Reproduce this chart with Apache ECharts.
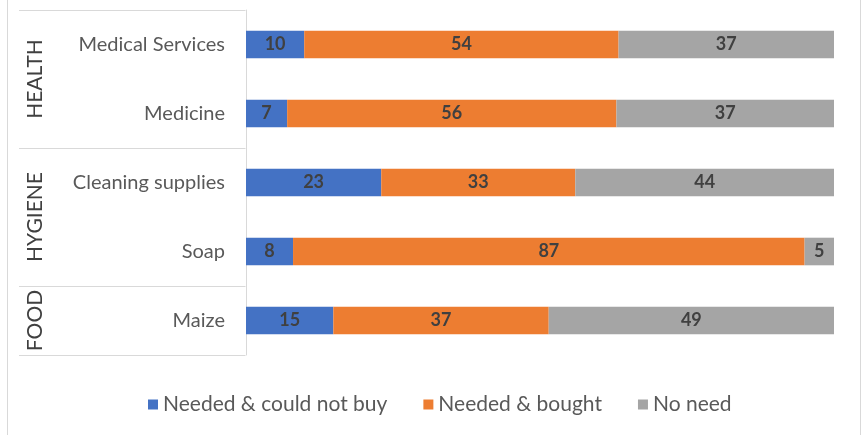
<!DOCTYPE html>
<html>
<head>
<meta charset="utf-8">
<script src="https://cdn.jsdelivr.net/npm/echarts@6/dist/echarts.min.js"></script>
<style>
html,body{margin:0;padding:0;background:#fff;}
#c{width:865px;height:435px;}
</style>
</head>
<body>
<div id="c"></div>
<script>
const categories = ['Medical Services', 'Medicine', 'Cleaning supplies', 'Soap', 'Maize'];
const groupNames = ['HEALTH', 'HYGIENE', 'FOOD'];
const groupSizes = [2, 2, 1];
const seriesNames = ['Needed & could not buy', 'Needed & bought', 'No need'];
const couldNotBuy = [10, 7, 23, 8, 15];
const bought = [54, 56, 33, 87, 37];
const noNeed = [37, 37, 44, 5, 49];
const colors = ['#4472C4', '#ED7D31', '#A5A5A5'];

const raw = [couldNotBuy, bought, noNeed];
const totals = categories.map((_, i) => raw.reduce((s, arr) => s + arr[i], 0));

const FONT = 'Lato, "Open Sans", sans-serif';
const chart = echarts.init(document.getElementById('c'), null, {renderer: 'canvas'});

const series = raw.map((arr, si) => ({
  name: seriesNames[si],
  type: 'bar',
  stack: 'total',
  barCategoryGap: '60%',
  itemStyle: {color: colors[si]},
  label: {
    show: true,
    position: 'inside',
    color: '#404040',
    fontFamily: FONT,
    fontWeight: 'bold',
    fontSize: 18,
    formatter: p => String(arr[p.dataIndex])
  },
  emphasis: {disabled: true},
  data: arr.map((v, i) => v / totals[i] * 100)
}));

chart.setOption({
  animation: false,
  grid: {left: 246, right: 31, top: 10, bottom: 80, containLabel: false},
  legend: {
    bottom: 15,
    left: 143,
    itemWidth: 10,
    itemHeight: 10,
    itemGap: 36,
    icon: 'rect',
    textStyle: {color: '#595959', fontSize: 21, fontFamily: FONT},
    data: seriesNames
  },
  xAxis: {
    type: 'value',
    min: 0,
    max: 100,
    show: false
  },
  yAxis: {
    type: 'category',
    inverse: true,
    data: categories,
    axisLine: {show: true, lineStyle: {color: '#D9D9D9', width: 1}},
    axisTick: {show: false},
    axisLabel: {color: '#595959', fontSize: 20, fontFamily: FONT, margin: 21}
  },
  series: series
});

function drawGraphics() {
  const y0 = chart.convertToPixel({yAxisIndex: 0}, 0);
  const y1 = chart.convertToPixel({yAxisIndex: 0}, 1);
  const band = y1 - y0;
  const top = y0 - band / 2;
  const axisX = chart.convertToPixel({xAxisIndex: 0}, 0) - 1;
  const els = [];
  const lineStyle = {stroke: '#D9D9D9', lineWidth: 1};
  els.push({type: 'line', shape: {x1: 7.5, y1: 0, x2: 7.5, y2: 435}, style: lineStyle, silent: true});
  els.push({type: 'line', shape: {x1: 860.5, y1: 0, x2: 860.5, y2: 435}, style: lineStyle, silent: true});
  let idx = 0;
  const boundaries = [top];
  groupNames.forEach((g, gi) => {
    const start = top + idx * band;
    idx += groupSizes[gi];
    const end = top + idx * band;
    boundaries.push(end);
    els.push({
      type: 'text',
      x: 35,
      y: (start + end) / 2,
      rotation: Math.PI / 2,
      style: {
        text: g,
        fill: '#404040',
        font: '21px ' + FONT,
        align: 'center',
        verticalAlign: 'middle'
      },
      silent: true
    });
  });
  boundaries.forEach(b => {
    const yy = Math.round(b) + 0.5;
    els.push({type: 'line', shape: {x1: 19, y1: yy, x2: axisX + 0.5, y2: yy}, style: lineStyle, silent: true});
  });
  chart.setOption({graphic: {elements: els}});
}
drawGraphics();
</script>
</body>
</html>
